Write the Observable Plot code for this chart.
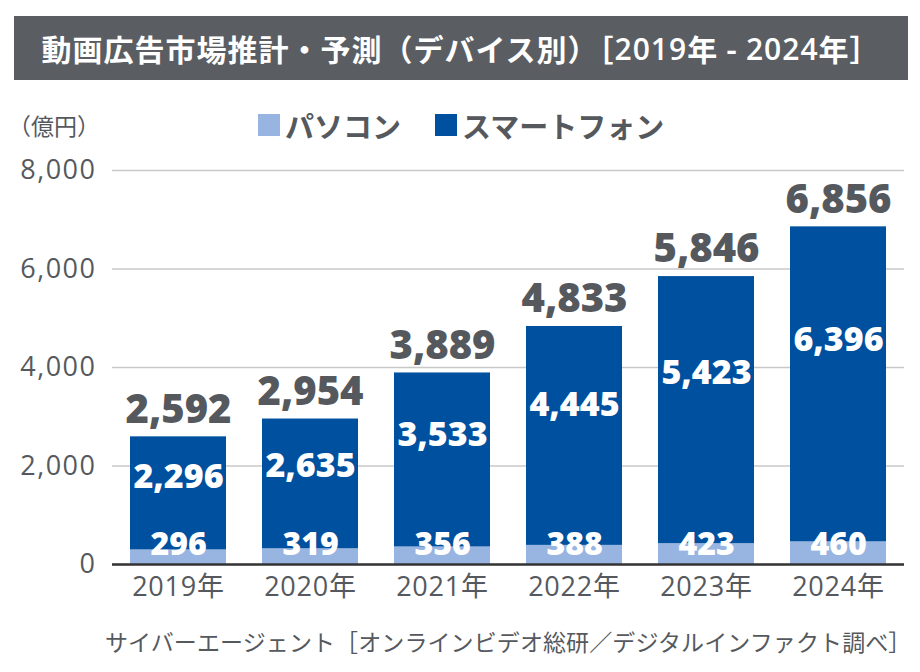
<!DOCTYPE html>
<html><head><meta charset="utf-8">
<script src="https://cdn.jsdelivr.net/npm/d3@7"></script>
<script src="https://cdn.jsdelivr.net/npm/@observablehq/plot@0.6"></script>
<style>
body{margin:0;background:#fff;font-family:"Noto Sans CJK JP",sans-serif;}
#wrap{position:relative;width:920px;height:672px;overflow:hidden;}
#title{position:absolute;left:14px;top:16px;width:894px;height:64px;background:#5a5e63;color:#fff;font-size:30px;letter-spacing:1px;font-weight:700;display:flex;align-items:center;justify-content:center;white-space:pre;}
#title .num{font-family:"Open Sans","Noto Sans CJK JP",sans-serif;font-weight:600;}
#unit{position:absolute;left:8px;top:108px;font-size:23px;color:#55595e;}
#legend{position:absolute;left:258px;top:104px;display:flex;align-items:center;font-size:29px;font-weight:700;color:#55595e;}
#legend .item{display:flex;align-items:center;margin-right:34px;}
.sw{display:inline-block;width:22px;height:22px;margin-right:5px;}
#chart{position:absolute;left:0;top:80px;}
#source{position:absolute;left:105px;top:624px;font-size:23px;letter-spacing:0.1px;color:#55595e;white-space:nowrap;}
</style>
</head><body>
<div id="wrap">
  <div id="title">動画広告市場推計・予測（デバイス別）［<span class="num">2019</span>年 - <span class="num">2024</span>年］</div>
  <div id="unit">（億円）</div>
  <div id="legend"></div>
  <div id="chart"></div>
  <div id="source">サイバーエージェント［オンラインビデオ総研／デジタルインファクト調べ］</div>
</div>
<script>
const years = ["2019年","2020年","2021年","2022年","2023年","2024年"];
const devices = ["パソコン","スマートフォン"];
const pcValues = [296,319,356,388,423,460];
const spValues = [2296,2635,3533,4445,5423,6396];
const totals = [2592,2954,3889,4833,5846,6856];
const yTicks = [0,2000,4000,6000,8000];
const colors = ["#98b5e1","#0050a0"];

const rows = [
  ...years.map((y,i)=>({year:y, device:devices[0], value:pcValues[i]})),
  ...years.map((y,i)=>({year:y, device:devices[1], value:spValues[i]}))
];
const yearRows = years.map((y,i)=>({year:y, pc:pcValues[i], sp:spValues[i], total:totals[i]}));

const legend = document.getElementById("legend");
devices.forEach((d,i)=>{
  const it = document.createElement("div"); it.className="item";
  const sw = document.createElement("span"); sw.className="sw"; sw.style.background=colors[i];
  it.appendChild(sw); it.appendChild(document.createTextNode(d));
  legend.appendChild(it);
});

const fmt = d3.format(",");
const numFont = "'Open Sans','Noto Sans CJK JP',sans-serif";
const gray = "#55595e";

const chart = Plot.plot({
  width: 920, height: 530,
  marginLeft: 112, marginRight: 16, marginTop: 90, marginBottom: 46,
  style: {fontFamily: numFont, color: gray, background: "transparent", overflow: "visible"},
  x: {domain: years, paddingInner: 0.273, paddingOuter: 0.1365, label: null},
  y: {domain: [0, 8000], label: null},
  color: {domain: devices, range: colors},
  marks: [
    Plot.gridY(yTicks, {stroke: "#c8c8c8", strokeOpacity: 1, strokeWidth: 1.5}),
    Plot.axisY({ticks: yTicks, tickSize: 0, tickPadding: 16, fontSize: 27, tickFormat: fmt, label: null, fill: gray}),
    Plot.axisX({tickSize: 0, tickPadding: 12, fontSize: 27, label: null, fill: gray}),
    Plot.barY(rows, {x: "year", y: "value", fill: "device"}),
    Plot.ruleY([0], {stroke: "#333", strokeWidth: 2.5}),
    Plot.text(yearRows, {x: "year", y: "total", text: d => fmt(d.total), dy: -27, fontSize: 40, fontWeight: 800, fill: gray, ariaLabel: "totals"}),
    Plot.text(yearRows, {x: "year", y: d => d.pc + d.sp * 0.64, text: d => fmt(d.sp), fontSize: 34, fontWeight: 800, fill: "#fff", ariaLabel: "splabels"}),
    Plot.text(yearRows, {x: "year", y: 0, text: d => fmt(d.pc), dy: -20, fontSize: 32, fontWeight: 800, fill: "#fff", ariaLabel: "pclabels"})
  ]
});
document.getElementById("chart").appendChild(chart);
const sv = d3.select(chart);
sv.selectAll("g[aria-label='totals'] text").attr("letter-spacing", "1.5px");
sv.selectAll("g[aria-label='splabels'] text").attr("letter-spacing", "1.5px");
sv.selectAll("g[aria-label='pclabels'] text").attr("letter-spacing", "1.5px");
sv.selectAll("g[aria-label='y-axis tick label'] text").attr("letter-spacing", "1.5px");
sv.selectAll("g[aria-label='x-axis tick label'] text").attr("letter-spacing", "0.8px");
</script>
</body></html>
